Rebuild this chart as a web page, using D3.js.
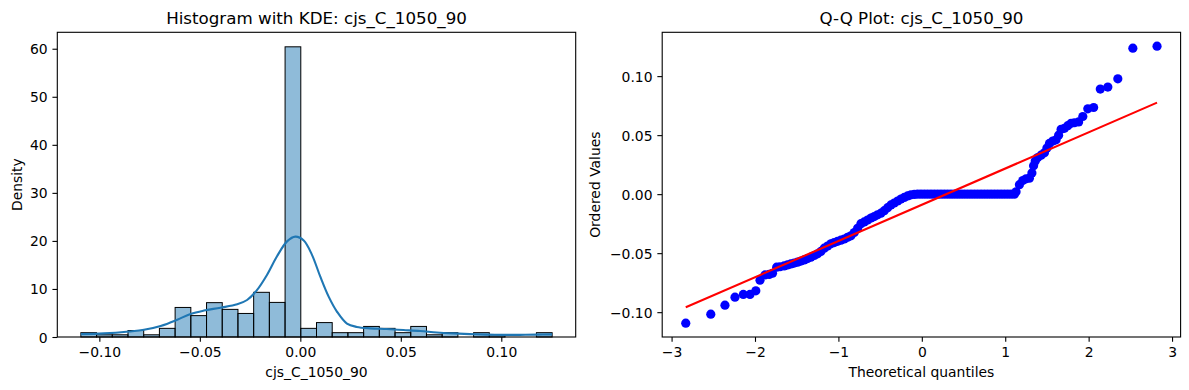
<!DOCTYPE html>
<html>
<head>
<meta charset="utf-8">
<script src="https://cdn.jsdelivr.net/npm/d3@7"></script>
<style>
    body { margin: 0; background: #fff; }
    svg { display: block; font-family: "DejaVu Sans", sans-serif; }
</style>
</head>
<body>
<div id="vis"></div>
<script>
// ---- data ----
const seriesName = "cjs_C_1050_90";

// histogram: 30 equal bins over the data range, heights as density
const histRange = [-0.1092, 0.1253];
const histDensity = [0.9, 0.46, 0.46, 1.35, 0.46, 1.8, 6.15, 4.45, 7.15, 5.75,
                     4.9, 9.3, 7.2, 60.4, 1.8, 3.0, 0.9, 0.9, 2.2, 1.8,
                     0.9, 2.2, 0.46, 0.9, 0, 0.9, 0.46, 0, 0, 0.9];

// kde curve
const kdeX = [-0.1092, -0.0977, -0.0852, -0.0778, -0.0695, -0.0612, -0.0546, -0.0480, -0.0397, -0.0314,
              -0.0265, -0.0215, -0.0166, -0.0116, -0.0066, -0.0025, 0.0017, 0.0058, 0.0099, 0.0141,
              0.0182, 0.0232, 0.0281, 0.0348, 0.0430, 0.0513, 0.0596, 0.0679, 0.0761, 0.0844,
              0.0927, 0.1009, 0.1092, 0.1175, 0.1253];
const kdeY = [0.6, 0.75, 1.15, 1.5, 2.3, 3.6, 4.8, 5.5, 6.1, 6.8,
              7.7, 9.8, 12.9, 16.8, 19.9, 20.9, 20.1, 17.1, 12.6, 8.4,
              5.3, 2.8, 2.1, 1.8, 1.65, 1.45, 1.25, 0.95, 0.75, 0.6,
              0.5, 0.45, 0.45, 0.5, 0.55];

// q-q points: [theoretical quantile, ordered value]
const qqPoints = [
    [-2.83, -0.1093], [-2.53, -0.1017], [-2.36, -0.0941], [-2.24, -0.0873], [-2.14, -0.0850],
    [-2.06, -0.0850], [-1.99, -0.0819], [-1.94, -0.0729], [-1.88, -0.0684], [-1.83, -0.0680],
    [-1.79, -0.0670], [-1.74, -0.0619], [-1.70, -0.0615], [-1.65, -0.0608], [-1.61, -0.0600],
    [-1.57, -0.0591], [-1.53, -0.0584], [-1.49, -0.0576], [-1.45, -0.0567], [-1.41, -0.0557],
    [-1.37, -0.0546], [-1.33, -0.0534], [-1.29, -0.0520], [-1.25, -0.0506], [-1.21, -0.0485],
    [-1.17, -0.0458], [-1.13, -0.0440], [-1.09, -0.0421], [-1.05, -0.0410], [-1.01, -0.0400],
    [-0.97, -0.0390], [-0.93, -0.0380], [-0.89, -0.0366], [-0.85, -0.0353], [-0.81, -0.0325],
    [-0.77, -0.0290], [-0.73, -0.0250], [-0.69, -0.0235], [-0.65, -0.0220], [-0.61, -0.0203],
    [-0.57, -0.0190], [-0.53, -0.0175], [-0.49, -0.0161], [-0.45, -0.0140], [-0.41, -0.0115],
    [-0.37, -0.0091], [-0.33, -0.0075], [-0.29, -0.0058], [-0.25, -0.0042], [-0.21, -0.0028],
    [-0.17, -0.0015], [-0.13, -0.0006], [-0.09, -0.0002], [-0.05, 0], [-0.01, 0],
    [0.03, 0], [0.07, 0], [0.11, 0], [0.15, 0], [0.19, 0], [0.23, 0], [0.27, 0], [0.31, 0],
    [0.35, 0], [0.39, 0], [0.43, 0], [0.47, 0], [0.51, 0], [0.55, 0], [0.59, 0], [0.63, 0],
    [0.67, 0], [0.71, 0], [0.75, 0], [0.79, 0], [0.83, 0], [0.87, 0], [0.91, 0], [0.95, 0],
    [0.99, 0], [1.03, 0], [1.07, 0], [1.11, 0],
    [1.13, 0.0020], [1.17, 0.0080], [1.21, 0.0115], [1.25, 0.0130], [1.29, 0.0135],
    [1.32, 0.0180], [1.34, 0.0240], [1.36, 0.0280], [1.39, 0.0310], [1.43, 0.0330],
    [1.47, 0.0350], [1.50, 0.0390], [1.53, 0.0430], [1.57, 0.0450], [1.61, 0.0460],
    [1.64, 0.0500], [1.67, 0.0550], [1.71, 0.0558], [1.75, 0.0580], [1.79, 0.0600],
    [1.83, 0.0605], [1.88, 0.0612], [1.93, 0.0658], [1.99, 0.0723], [2.06, 0.0734],
    [2.14, 0.0890], [2.23, 0.0907], [2.35, 0.0977], [2.53, 0.1237], [2.82, 0.1254]
];
// least squares line of the q-q plot
const qqSlope = 0.0307;
const qqIntercept = -0.0090;

// tick labels
const histXTicks = [-0.10, -0.05, 0.00, 0.05, 0.10];
const histYTicks = [0, 10, 20, 30, 40, 50, 60];
const qqXTicks = [-3, -2, -1, 0, 1, 2, 3];
const qqYTicks = [-0.10, -0.05, 0.00, 0.05, 0.10];

// ---- drawing ----
const FONT = 13.9;      // 10pt at 100 dpi
const TICK = 4.86;      // 3.5pt

// matplotlib style 5% margin
function pad(ext) {
    const d = (ext[1] - ext[0]) * 0.05;
    return [ext[0] - d, ext[1] + d];
}

class Panel {
    constructor(svg, box, xDomain, yDomain) {
        this.svg = svg;
        this.box = box;
        this.xScale = d3.scaleLinear().domain(xDomain).range([0, box.width]);
        this.yScale = d3.scaleLinear().domain(yDomain).range([box.height, 0]);
        this.g = svg.append('g').attr('transform', `translate(${[box.left, box.top]})`);
        this.plot = this.g.append('g');
    }

    axes(xTicks, yTicks, xFmt, yFmt) {
        const chart = this;
        const gx = chart.g.append('g')
            .attr('transform', `translate(${[0, chart.box.height]})`)
            .call(d3.axisBottom(chart.xScale).tickValues(xTicks).tickFormat(xFmt)
                .tickSize(TICK).tickSizeOuter(0).tickPadding(TICK));
        const gy = chart.g.append('g')
            .call(d3.axisLeft(chart.yScale).tickValues(yTicks).tickFormat(yFmt)
                .tickSize(TICK).tickSizeOuter(0).tickPadding(TICK));
        [gx, gy].forEach(a => {
            a.select('.domain').remove();
            a.selectAll('line').attr('stroke', '#000').attr('stroke-width', 1.1);
            a.selectAll('text').attr('fill', '#000').style('font-size', FONT + 'px')
                .style('font-family', '"DejaVu Sans", sans-serif');
        });
        gy.selectAll('text').attr('dy', '0.36em');
    }

    labels(title, xLabel, yLabel, yLabelX) {
        const chart = this;
        const w = chart.box.width, h = chart.box.height;
        chart.g.append('text')
            .attr('x', w / 2).attr('y', -8.5)
            .attr('text-anchor', 'middle')
            .style('font-size', '16.7px')
            .text(title);
        chart.g.append('text')
            .attr('x', w / 2).attr('y', h + 40)
            .attr('text-anchor', 'middle')
            .style('font-size', FONT + 'px')
            .text(xLabel);
        chart.g.append('text')
            .attr('transform', `translate(${[yLabelX, h / 2]}) rotate(-90)`)
            .attr('text-anchor', 'middle')
            .style('font-size', FONT + 'px')
            .text(yLabel);
    }

    frame() {
        this.g.append('rect')
            .attr('width', this.box.width).attr('height', this.box.height)
            .attr('fill', 'none').attr('stroke', '#000').attr('stroke-width', 1.1);
    }
}

const svg = d3.select('#vis').append('svg')
    .attr('width', 1189).attr('height', 390);

// left: histogram with kde
const binWidth = (histRange[1] - histRange[0]) / histDensity.length;
const bins = histDensity.map((d, i) => ({
    x0: histRange[0] + i * binWidth,
    x1: histRange[0] + (i + 1) * binWidth,
    y: d
}));

const hist = new Panel(svg, { left: 57.3, top: 32.3, width: 518.4, height: 304.7 },
    pad(histRange), [0, d3.max(histDensity) * 1.05]);

hist.plot.selectAll('rect')
    .data(bins.filter(b => b.y > 0))
    .enter()
    .append('rect')
    .attr('x', d => hist.xScale(d.x0))
    .attr('width', d => hist.xScale(d.x1) - hist.xScale(d.x0))
    .attr('y', d => hist.yScale(d.y))
    .attr('height', d => hist.yScale(0) - hist.yScale(d.y))
    .attr('fill', 'rgba(31,119,180,0.5)')
    .attr('stroke', '#000')
    .attr('stroke-width', 1);

hist.plot.append('path')
    .datum(kdeX.map((x, i) => [x, kdeY[i]]))
    .attr('fill', 'none')
    .attr('stroke', '#1f77b4')
    .attr('stroke-width', 2.1)
    .attr('d', d3.line()
        .x(d => hist.xScale(d[0]))
        .y(d => hist.yScale(d[1]))
        .curve(d3.curveCatmullRom));

hist.axes(histXTicks, histYTicks, d3.format('.2f'), d3.format('d'));
hist.labels(`Histogram with KDE: ${seriesName}`, seriesName, 'Density', -35.8);
hist.frame();

// right: q-q plot
const qqX = d3.extent(qqPoints, d => d[0]);
const qqY = d3.extent(qqPoints, d => d[1]);
const qq = new Panel(svg, { left: 662.2, top: 32.3, width: 518.4, height: 304.7 },
    pad(qqX), pad(qqY));

qq.plot.selectAll('circle')
    .data(qqPoints)
    .enter()
    .append('circle')
    .attr('cx', d => qq.xScale(d[0]))
    .attr('cy', d => qq.yScale(d[1]))
    .attr('r', 4.6)
    .attr('fill', '#0000ff');

qq.plot.append('line')
    .attr('x1', qq.xScale(qqX[0]))
    .attr('y1', qq.yScale(qqSlope * qqX[0] + qqIntercept))
    .attr('x2', qq.xScale(qqX[1]))
    .attr('y2', qq.yScale(qqSlope * qqX[1] + qqIntercept))
    .attr('stroke', '#ff0000')
    .attr('stroke-width', 2.1);

qq.axes(qqXTicks, qqYTicks, d3.format('d'), d3.format('.2f'));
qq.labels(`Q-Q Plot: ${seriesName}`, 'Theoretical quantiles', 'Ordered Values', -62);
qq.frame();
</script>
</body>
</html>
